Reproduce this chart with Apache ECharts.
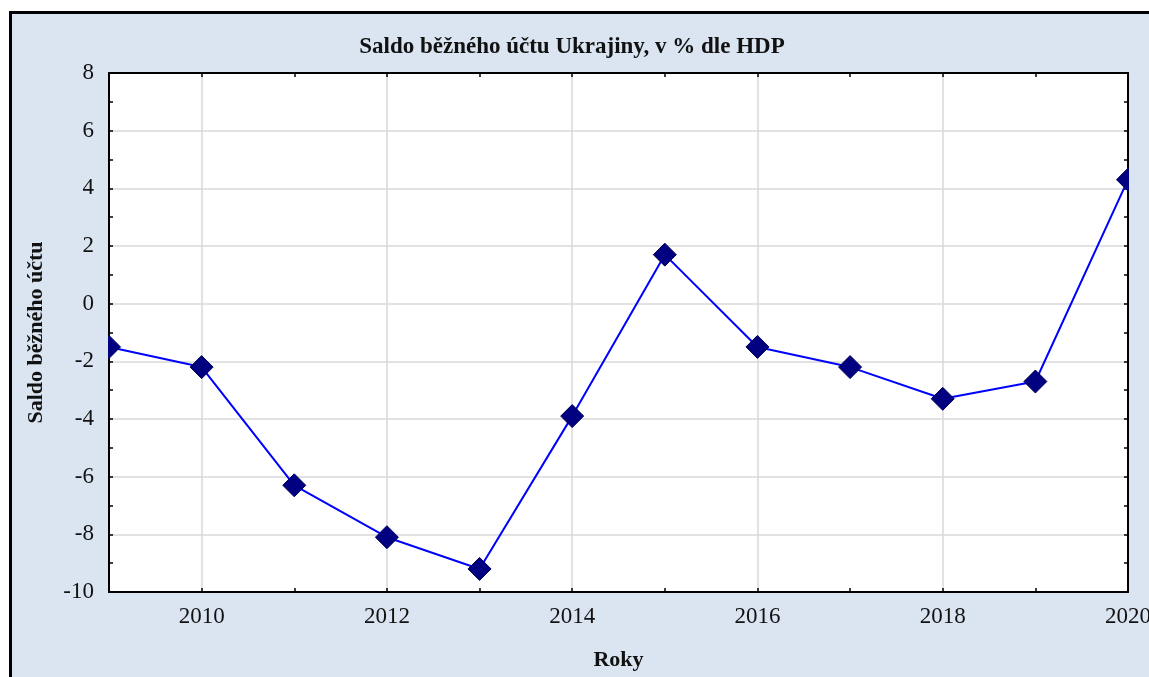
<!DOCTYPE html>
<html>
<head>
<meta charset="utf-8">
<script src="https://cdn.jsdelivr.net/npm/echarts@6/dist/echarts.min.js"></script>
<style>
  html, body { margin: 0; padding: 0; background: #fff; overflow: hidden; }
  #frame { position: absolute; left: 9px; top: 11px; width: 1200px; height: 720px;
           border: 3px solid #000; background: #dbe5f1; }
  #chart { position: absolute; left: 0; top: 0; width: 1149px; height: 677px; }
</style>
</head>
<body>
<div id="frame"></div>
<div id="chart"></div>
<script>
// Saldo běžného účtu Ukrajiny (% HDP)
const years = [2009, 2010, 2011, 2012, 2013, 2014, 2015, 2016, 2017, 2018, 2019, 2020];
const saldo = [-1.5, -2.2, -6.3, -8.1, -9.2, -3.9, 1.7, -1.5, -2.2, -3.3, -2.7, 4.3];
const yearLabels = [2010, 2012, 2014, 2016, 2018, 2020];

const BG = '#dbe5f1';
const FONT = "'Liberation Serif', 'Times New Roman', serif";

const chart = echarts.init(document.getElementById('chart'));

const xBase = {
  type: 'value', min: 2009, max: 2020, interval: 1,
  axisLine: { show: true, onZero: false, lineStyle: { color: '#000', width: 2 } },
  axisTick: { show: true, inside: true, length: 4, lineStyle: { color: '#000', width: 1.5 } },
};
const yBase = {
  type: 'value', min: -10, max: 8, interval: 2,
  axisLine: { show: true, onZero: false, lineStyle: { color: '#000', width: 2 } },
  axisTick: { show: true, inside: true, length: 4, lineStyle: { color: '#000', width: 1.5 } },
  minorTick: { show: true, splitNumber: 2, length: 4, lineStyle: { color: '#000', width: 1.5 } },
};

chart.setOption({
  backgroundColor: 'transparent',
  animation: false,
  title: {
    text: 'Saldo běžného účtu Ukrajiny, v % dle HDP',
    left: 567, top: 31, textAlign: 'center',
    textStyle: { fontFamily: FONT, fontSize: 23, fontWeight: 'bold', color: '#111' }
  },
  grid: {
    left: 109, right: 21, top: 73, bottom: 85,
    containLabel: false, outerBoundsMode: 'none',
    show: true, backgroundColor: '#fff', borderWidth: 0
  },
  xAxis: [
    Object.assign({}, xBase, {
      position: 'bottom',
      name: 'Roky', nameLocation: 'middle', nameGap: 57,
      nameTextStyle: { fontFamily: FONT, fontSize: 22, fontWeight: 'bold', color: '#111' },
      axisLabel: {
        margin: 13, fontFamily: FONT, fontSize: 23, color: '#111',
        formatter: v => yearLabels.includes(v) ? String(v) : ''
      },
      splitLine: { show: true, lineStyle: { color: ['rgba(0,0,0,0)', '#d9d9d9'], width: 1.5 } }
    }),
    Object.assign({}, xBase, {
      position: 'top', axisLabel: { show: false }, splitLine: { show: false }
    })
  ],
  yAxis: [
    Object.assign({}, yBase, {
      position: 'left',
      name: 'Saldo běžného účtu', nameLocation: 'middle', nameGap: 62,
      nameTextStyle: { fontFamily: FONT, fontSize: 22, fontWeight: 'bold', color: '#111' },
      axisLabel: { margin: 15, fontFamily: FONT, fontSize: 23, color: '#111' },
      splitLine: { show: true, lineStyle: { color: '#d9d9d9', width: 1.5 } }
    }),
    Object.assign({}, yBase, {
      position: 'right', axisLabel: { show: false }, splitLine: { show: false }
    })
  ],
  series: [{
    type: 'line',
    data: years.map((y, i) => [y, saldo[i]]),
    xAxisIndex: 0, yAxisIndex: 0,
    clip: false,
    symbol: 'diamond',
    symbolSize: 23,
    lineStyle: { color: '#0000ff', width: 2 },
    itemStyle: { color: '#000080', borderColor: '#00005a', borderWidth: 1 },
    z: 3
  }],
  // hide the parts of the edge markers that stick out of the plot
  graphic: [{
    type: 'rect', z: 100,
    shape: { x: 1129, y: 60, width: 30, height: 531 },
    style: { fill: BG }
  }, {
    type: 'rect', z: 100,
    shape: { x: 96, y: 300, width: 12, height: 90 },
    style: { fill: BG }
  }]
});
</script>
</body>
</html>
